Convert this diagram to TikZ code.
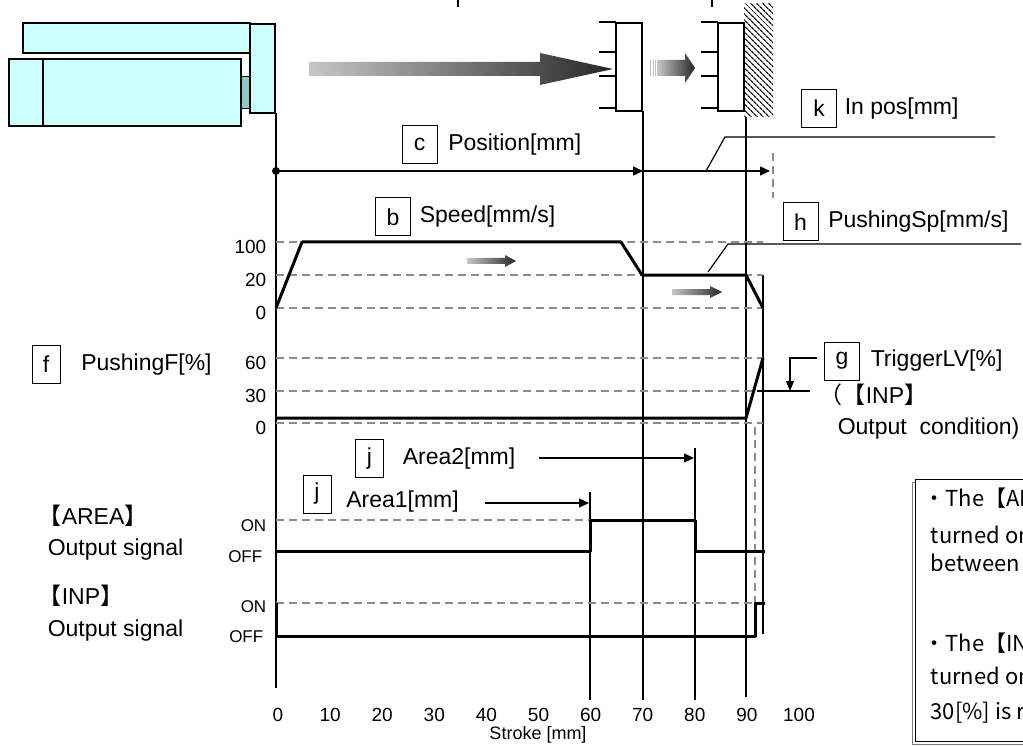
\documentclass[tikz,border=0pt]{standalone}
\usepackage{fontspec}
\setmainfont{Liberation Sans}
\newfontfamily\jpfont{Noto Sans CJK JP}
\usetikzlibrary{arrows.meta,positioning,calc,patterns.meta}
\definecolor{bodycyan}{HTML}{CCFFFF}
\definecolor{rodcyan}{HTML}{8FC8C8}
\tikzset{
    every node/.style={color=black, font=\fontsize{23}{26}\selectfont},
}
\newcommand{\lbrk}{{\jpfont 【}}
\newcommand{\rbrk}{{\jpfont 】}}

\begin{document}
\begin{tikzpicture}[
        x=1pt, y=-1pt,
        line width=1.5pt,
        >={Triangle[length=10pt,width=9pt]},
        letterbox/.style={draw, line width=1pt, minimum width=35pt, minimum height=38pt, inner sep=0pt},
        slimbox/.style={letterbox, minimum width=28pt},
        lbl/.style={inner sep=1pt},
        flat/.style={text height=17pt, text depth=4pt},
        tick/.style={font=\fontsize{19}{21}\selectfont, inner sep=1pt},
        onoff/.style={font=\fontsize{17}{19}\selectfont, inner sep=1pt, anchor=east},
        level/.style={draw=black!45, line width=1.2pt, dash pattern=on 8pt off 5pt},
        profile/.style={line width=3pt, line join=round},
        body/.style={draw, line width=1.5pt, fill=bodycyan},
        shadearrow/.style={left color=black!22, right color=black!85},
        leader/.style={line width=1.2pt},
        notetext/.style={font=\jpfont\fontsize{22}{24}\selectfont, inner sep=0pt, anchor=west, text height=16pt, text depth=4pt}
    ]
    \useasboundingbox (0,0) rectangle (1023,746);
    \clip (0,0) rectangle (1023,746);

    % Actuator
    \draw[body] (23,23) rectangle (250,53);
    \draw[body] (9,59) rectangle (241,126);
    \draw (43,59) -- (43,126);
    \draw[line width=1pt, fill=rodcyan] (241,77) rectangle (249,109);
    \draw[body] (250,24) rectangle (275,113);

    % Workpiece and wall
    \foreach \wx in {616,718} {
        \foreach \ty in {22,52,76,108}
            \draw (\wx-17,\ty) -- (\wx,\ty);
        \draw (\wx,22) -- (\wx,108);
        \draw (\wx,23) rectangle (\wx+26,111);
    }
    \fill[pattern={Lines[angle=-45,distance=4pt,line width=1.3pt]}] (744,4) rectangle (773,117);
    \draw (458,0) -- (458,7);
    \draw (712,0) -- (712,7);

    % Motion arrows
    \shade[shadearrow] (309,62) -- (540,62) -- (540,53) -- (613,69) -- (540,85) -- (540,76) -- (309,76) -- cycle;
    \foreach \sx in {650,652.5,655}
        \fill[black!25] (\sx,60) rectangle (\sx+1.2,76);
    \shade[shadearrow] (657,60) -- (685,60) -- (685,53) -- (695,68) -- (685,83) -- (685,76) -- (657,76) -- cycle;

    % Stroke lines
    \draw (276,113) -- (276,688);
    \draw (643,111) -- (643,700);
    \draw (746,117) -- (746,697);
    \draw (763,275) -- (763,634);
    \draw (590,492) -- (590,700);
    \draw (695,448) -- (695,700);
    \draw[level] (755,427) -- (755,603);
    \draw[level] (773,153) -- (773,198);

    % Levels
    \foreach \ly in {242,275,308,358,391,423}
        \draw[level] (276,\ly) -- (763,\ly);
    \draw[level] (276,520) -- (695,520);
    \draw[level] (276,603) -- (765,603);
    \foreach \v/\ly in {100/242,20/275,0/308,60/358,30/391,0/423}
        \node[tick, anchor=east] (ylab\ly) at (268,\ly+5) {\v};

    % Profiles
    \draw[profile] (276,308) -- (302,242) -- (621,242) -- (642,275) -- (746,275) -- (763,308);
    \draw[profile] (276,418) -- (746,418) -- (763,358);
    \draw[profile] (276,551) -- (590,551) -- (590,520) -- (695,520) -- (695,551) -- (765,551);
    \draw[profile] (276,603) -- (276,636) -- (755,636) -- (755,603) -- (765,603);
    \shade[shadearrow] (467,258) -- (505,258) -- (505,255) -- (516,261) -- (505,267) -- (505,264) -- (467,264) -- cycle;
    \shade[shadearrow] (672,289) -- (710,289) -- (710,286) -- (722,292) -- (710,298) -- (710,295) -- (672,295) -- cycle;

    % Position
    \coordinate (origin) at (276,171);
    \coordinate (pos70) at (643,171);
    \coordinate (posend) at (770,171);
    \fill (origin) circle (4pt);
    \draw[->] (origin) -- (pos70);
    \draw[->] (pos70) -- (posend);

    % Parameter boxes
    \node[letterbox] (boxc) at (419.5,144.5) {c};
    \node[lbl, right=9pt of boxc] (position) {Position[mm]};
    \node[letterbox] (boxk) at (819,108.5) {k};
    \node[lbl, right=6pt of boxk] (inpos) {In pos[mm]};
    \node[letterbox] (boxb) at (393,217) {b};
    \node[lbl, right=7pt of boxb] (speed) {Speed[mm/s]};
    \node[letterbox] (boxh) at (800.5,222) {h};
    \node[lbl, right=8pt of boxh] (pushsp) {PushingSp[mm/s]};
    \node[slimbox] (boxf) at (46,364.5) {f};
    \node[lbl, right=19pt of boxf] (pushf) {PushingF[\%]};
    \node[letterbox] (boxg) at (842,361) {g};
    \node[lbl, right=9pt of boxg] (trigger) {TriggerLV[\%]};
    \node[slimbox] (boxj2) at (369.5,458.5) {j};
    \node[lbl, right=17pt of boxj2] (area2) {Area2[mm]};
    \node[slimbox] (boxj1) at (317,494) {j};
    \node[lbl, right=13pt of boxj1, yshift=-8pt] (area1) {Area1[mm]};

    % Leaders
    \coordinate (kfoot) at (706,171);
    \coordinate (kbend) at (725,137);
    \coordinate (kend) at (995,137);
    \draw[leader] (kfoot) -- (kbend) -- (kend);
    \coordinate (hfoot) at (708,272);
    \coordinate (hbend) at (728,244);
    \coordinate (hend) at (1021,244);
    \draw[leader] (hfoot) -- (hbend) -- (hend);
    \coordinate (gstart) at (817,358);
    \coordinate (gbend) at (790,358);
    \coordinate (gtip) at (790,391);
    \draw[leader, -{Triangle[length=10pt,width=8pt]}] (gstart) -- (gbend) -- (gtip);
    \coordinate (trigL) at (757,391);
    \coordinate (trigR) at (810,391);
    \draw[leader] (trigL) -- (trigR);
    \coordinate (a2tail) at (539,458);
    \coordinate (a2tip) at (694,458);
    \draw[leader, ->] (a2tail) -- (a2tip);
    \coordinate (a1tail) at (485,503);
    \coordinate (a1tip) at (589,503);
    \draw[leader, ->] (a1tail) -- (a1tip);

    % Condition text
    \node[lbl, flat, anchor=west] (inpcond) at (818,397) {{\jpfont （【}INP\rbrk};
    \node[lbl, flat, anchor=west] (outcond) at (836,428) {Output\ \ condition)};

    % Signal labels
    \node[lbl, flat, anchor=west] (arealbl) at (37,518) {\lbrk AREA\rbrk};
    \node[lbl, flat, anchor=west] (areaout) at (46,549) {Output signal};
    \node[lbl, flat, anchor=west] (inplbl) at (37,598) {\lbrk INP\rbrk};
    \node[lbl, flat, anchor=west] (inpout) at (46,630) {Output signal};
    \node[onoff] (areaon) at (268,526) {ON};
    \node[onoff] (areaoff) at (264,557) {OFF};
    \node[onoff] (inpon) at (268,607) {ON};
    \node[onoff] (inpoff) at (265,637) {OFF};

    % Stroke axis
    \foreach \s in {0,10,...,100}
        \node[tick] (xlab\s) at ({278+5.21*\s},715) {\s};
    \node[onoff, anchor=center, font=\fontsize{18}{20}\selectfont] (stroke) at (538,735) {Stroke [mm]};

    % Note
    \draw[black!50, line width=1pt] (912,482) rectangle (1030,744);
    \draw[line width=1pt, fill=white] (915,479) rectangle (1030,741);
    \node[notetext] (note1) at (923,500) {・The【AREA】 output is};
    \node[notetext] (note2) at (930,537) {turned on when the stroke is};
    \node[notetext] (note3) at (930,565) {between Area1 and Area2.};
    \node[notetext] (note4) at (923,645) {・The【INP】 output is};
    \node[notetext] (note5) at (930,678) {turned on when the force of};
    \node[notetext] (note6) at (930,713) {30[\%] is reached.};
\end{tikzpicture}
\end{document}
